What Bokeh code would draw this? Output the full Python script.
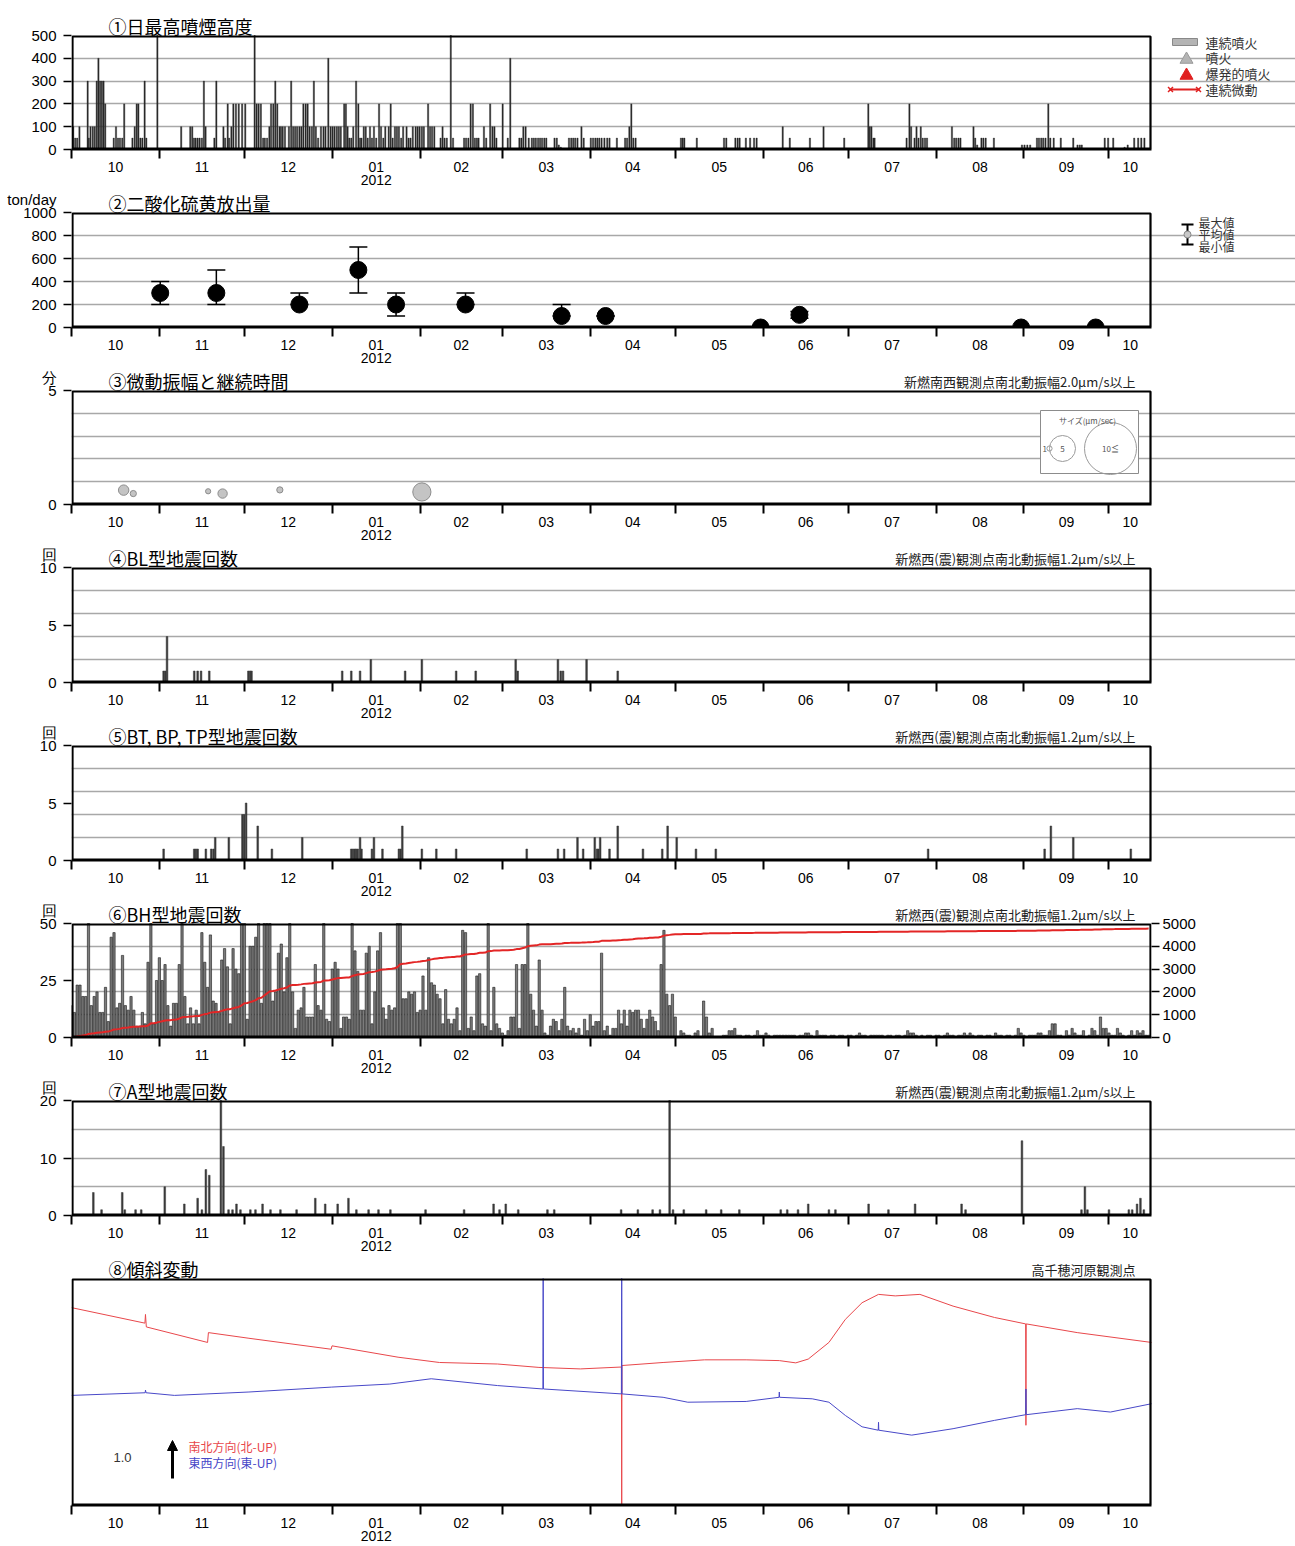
import numpy as np
from bokeh.plotting import figure
from bokeh.layouts import column
from bokeh.models import (FixedTicker, Range1d, LinearAxis, Grid, Label, Arrow, TeeHead,
                          NormalHead, Whisker, ColumnDataSource, BoxAnnotation)
from bokeh.embed import file_html
from bokeh.resources import INLINE

NUM_FONT = "Liberation Sans"
JP_FONT = "Noto Sans CJK JP"

# ---------------- time axis: days since 2011-10-01 ----------------
X_START, X_END = 0, 381
month_start = [0, 31, 61, 92, 123, 152, 183, 213, 244, 274, 305, 336, 366]
month_label = ["10", "11", "12", "01\n2012", "02", "03", "04", "05", "06", "07", "08", "09", "10"]

# ---------------- (1) daily max plume height (m) : (day, height) ----------------
plume = [(0.6,100),(1.3,50),(2.0,50),(2.8,100),(5.7,300),(6.1,50),(6.7,100),(7.5,100),(8.2,100),
 (8.9,300),(9.5,400),(10.1,300),(10.7,300),(11.3,300),(11.9,200),(14.9,50),(15.7,100),(16.4,50),
 (17.1,50),(17.9,50),(18.6,200),(21.5,50),(22.3,100),(23.0,200),(23.6,200),(24.3,50),(25.0,50),
 (25.8,300),(26.4,50),(30.3,500),(38.7,100),(41.9,100),(42.6,100),(43.2,50),(43.8,50),(44.5,50),
 (45.2,50),(46.0,50),(46.7,300),(47.3,100),(50.4,50),(51.1,300),(53.6,100),(54.2,50),(55.1,200),
 (55.6,50),(56.4,100),(57.1,200),(58.0,200),(59.0,200),(60.2,200),(61.3,200),(64.6,500),(65.3,200),
 (66.0,200),(66.8,200),(67.6,50),(68.2,50),(69.0,50),(69.8,100),(70.4,200),(71.2,200),(71.9,300),
 (72.6,200),(73.4,100),(73.9,100),(74.5,100),(75.3,100),(76.7,100),(77.5,300),(78.2,100),(78.9,100),
 (79.6,100),(80.4,100),(81.1,100),(81.8,200),(82.6,200),(83.3,200),(84.0,100),(84.8,100),(85.5,300),
 (86.2,100),(87.0,50),(88.0,100),(88.9,100),(89.6,100),(90.6,400),(91.4,100),(92.1,100),(92.8,100),
 (93.6,100),(94.3,100),(95.0,100),(96.2,200),(96.8,200),(97.4,100),(98.0,50),(98.7,50),(99.4,100),
 (100.4,300),(101.2,200),(101.8,50),(102.3,50),(103.1,100),(103.8,100),(104.5,50),(105.3,100),
 (106.0,50),(106.7,100),(107.5,50),(108.5,200),(109.2,100),(110.0,50),(110.7,100),(111.9,100),
 (112.6,200),(113.3,50),(114.1,100),(114.8,100),(115.5,100),(116.3,50),(117.0,100),(118.2,100),
 (118.9,50),(119.6,50),(120.4,100),(121.4,100),(122.1,100),(122.8,100),(123.6,100),(124.3,100),
 (125.8,200),(126.5,100),(127.2,100),(128.0,100),(130.2,50),(130.9,100),(131.6,50),(132.4,50),
 (133.8,500),(134.6,50),(138.5,50),(139.2,50),(140.0,50),(140.8,200),(141.6,200),(142.3,50),
 (143.0,50),(143.6,50),(145.5,100),(146.3,50),(147.7,200),(148.5,100),(149.2,100),(149.9,50),
 (152.1,200),(153.9,50),(154.8,400),(158.0,50),(158.7,50),(159.4,100),(160.2,100),(161.3,50),
 (162.4,50),(163.1,50),(163.8,50),(164.6,50),(165.3,50),(166.0,50),(166.8,50),(167.5,50),(170.4,50),
 (171.2,50),(171.9,20),(172.6,10),(175.5,50),(176.3,50),(177.0,50),(177.7,50),(178.5,50),(179.9,100),
 (180.7,50),(183.2,50),(184.0,50),(184.8,50),(185.5,50),(186.2,50),(187.0,50),(188.0,50),(189.0,50),
 (189.8,50),(192.4,50),(195.3,50),(196.0,50),(196.8,100),(197.5,200),(198.2,50),(199.0,50),
 (215.0,50),(215.6,50),(216.2,50),(220.6,50),(230.2,50),(231.0,50),(234.2,50),(235.0,50),(235.7,50),
 (237.9,50),(239.4,50),(240.8,50),(241.7,50),(250.9,100),(253.4,50),(260.5,50),(265.3,100),(272.6,50),
 (281.1,200),(281.6,100),(282.2,100),(282.9,50),(283.3,50),(294.6,50),(295.6,200),(296.2,100),
 (297.4,50),(298.1,100),(298.8,50),(299.6,100),(300.3,50),(301.1,50),(301.8,50),(310.6,100),
 (311.4,50),(312.1,50),(312.9,50),(313.6,50),(318.2,100),(318.8,50),(319.5,20),(321.0,50),(321.7,50),
 (322.5,50),(325.4,50),(335.3,20),(336.2,20),(337.2,20),(338.2,20),(340.6,50),(341.3,50),(342.1,50),
 (342.8,50),(343.6,50),(344.6,200),(345.3,50),(346.5,50),(349.0,50),(353.4,50),(354.9,20),(355.7,20),
 (356.4,20),(364.5,50),(365.7,50),(367.5,50),(371.5,10),(372.6,20),(374.9,50),(376.3,50),(377.4,50),
 (378.5,50)]
plume_day = [d for d, _ in plume]
plume_height = [h for _, h in plume]

# ---------------- (2) SO2 emission (ton/day) ----------------
so2_day = [31.3, 51.1, 80.4, 101.2, 114.5, 139.0, 172.9, 188.4, 243.1, 256.8, 335.0, 361.3]
so2_mean = [300, 300, 200, 500, 200, 200, 100, 100, 0, 110, 0, 0]
so2_max = [400, 500, 300, 700, 300, 300, 200, 100, 0, 140, 0, 0]
so2_min = [200, 200, 200, 300, 100, 200, 100, 100, 0, 80, 0, 0]

# ---------------- (3) tremor duration (min) and amplitude (um/s) ----------------
tremor_day = [18.4, 21.8, 48.2, 53.3, 73.5, 123.6]
tremor_min = [0.63, 0.48, 0.58, 0.48, 0.64, 0.55]
tremor_amp = [2.0, 1.2, 1.0, 1.8, 1.2, 3.5]

# ---------------- (4) BL-type earthquakes ----------------
bl_day = [32.5, 33.1, 33.7, 43.3, 44.5, 45.7, 48.6, 62.4, 63.0, 63.5, 95.5, 98.7, 101.8, 105.6,
          117.7, 123.6, 135.7, 142.6, 156.7, 157.4, 171.6, 172.6, 173.4, 181.7, 192.7]
bl_count = [1, 1, 4, 1, 1, 1, 1, 1, 1, 1, 1, 1, 1, 2, 1, 2, 1, 1, 2, 1, 2, 1, 1, 2, 1]

# ---------------- (5) BT, BP, TP-type earthquakes ----------------
bt_day = [32.5, 43.3, 43.9, 44.5, 47.4, 49.3, 50.1, 50.7, 55.5, 60.3, 60.9, 61.6, 65.7, 70.7, 81.4,
          98.7, 99.3, 99.9, 100.4, 101.0, 101.8, 102.3, 106.0, 106.7, 109.7, 115.5, 116.1, 116.7,
          123.6, 128.7, 135.7, 160.6, 171.6, 173.8, 178.5, 180.5, 184.6, 185.4, 185.9, 186.5, 189.8,
          192.7, 201.6, 208.4, 210.3, 213.5, 220.3, 227.3, 302.2, 343.3, 345.5, 353.4, 373.7]
bt_count = [1, 1, 1, 1, 1, 1, 1, 2, 2, 4, 4, 5, 3, 1, 2,
            1, 1, 1, 1, 1, 2, 1, 1, 2, 1, 1, 1, 3,
            1, 1, 1, 1, 1, 1, 2, 1, 2, 1, 1, 2, 1,
            3, 1, 1, 3, 2, 1, 1, 1, 1, 3, 2, 1]

# ---------------- (6) BH-type earthquakes, daily from 2011-10-01 ----------------
bh_count = [
    14, 11, 23, 23, 18, 18, 50, 14, 18, 20, 11, 11, 22, 7, 44, 46, 13, 15, 36, 14,
    12, 18, 12, 5, 5, 11, 6, 33, 90, 6, 25, 35, 25, 32, 14, 5, 15,
    15, 32, 60, 18, 6, 13, 6, 12, 6, 46, 33, 22, 45, 16, 15, 11, 34, 39, 31, 6, 39, 30, 28, 70,
    95, 8, 40, 40, 44, 90, 15, 100, 95, 90, 16, 20, 37, 41, 20, 35, 85,
    20, 4, 12, 13, 22, 9, 9, 9, 32, 14, 12, 60, 8, 7, 30,
    33, 30, 4, 9, 9, 8, 60, 38, 29, 12, 12, 37, 40, 6, 20,
    38, 46, 13, 8, 14, 12, 13, 60, 120, 17, 17, 20, 19, 20,
    11, 12, 27, 12, 35, 24, 23, 19, 17, 6, 21, 8, 6, 8, 13,
    3, 47, 46, 4, 9, 3, 27, 28, 6, 5, 60, 3, 22, 6, 4,
    2, 1, 3, 9, 9, 32, 4, 32, 32, 60, 19, 12, 5, 34,
    12, 2, 1, 5, 8, 7, 3, 8, 22, 5, 3, 4, 2, 4, 1, 8, 3, 10, 5, 7, 7, 37, 3, 5, 1, 4, 4, 12, 6, 12,
    5, 12, 11, 12, 12, 8,
    4, 8, 12, 9, 7, 3, 32, 47, 19, 14, 19, 9,
    0, 3, 2, 1, 1, 0, 2, 3, 0, 16, 9, 2, 4, 0, 0, 0,
    1, 1, 3, 3, 4, 1, 1, 0, 1, 1, 0, 1, 3, 1, 1, 2, 1, 0, 1, 1, 1, 1, 1, 1, 1, 1, 0, 1, 1, 2,
    2, 1, 0, 3, 1, 1, 1, 0, 1, 1, 0, 1, 1, 0, 1, 1, 0, 1, 2, 1, 1, 0, 1, 1, 1, 1, 1, 0, 1, 1,
    0, 1, 1, 0, 1, 3, 2, 2, 1, 0,
    1, 0, 1, 1, 0, 1, 1, 0, 1, 2, 1, 1, 0, 1, 1, 2, 1, 2, 1, 0, 1, 1, 0, 1, 1, 0, 2, 1, 1, 0,
    1, 1, 0, 1, 4, 2, 1, 0, 1, 1,
    1, 2, 2, 1, 1, 3, 6, 6, 1, 1, 0, 3, 1, 4, 2, 1, 1, 3, 0, 1, 4, 3, 1, 9, 4, 4, 2, 1, 1, 4,
    2, 1, 0, 1, 3, 1, 3, 2, 3, 1, 1]

# ---------------- (7) A-type earthquakes ----------------
a_day = [7.7, 10.6, 17.9, 18.8, 22.6, 24.6, 32.9, 39.8, 44.5, 46.0, 47.4, 48.6, 52.7, 53.6, 55.4,
         56.8, 58.2, 59.6, 63.1, 64.9, 67.4, 70.2, 73.7, 79.4, 86.0, 89.5, 93.9, 97.7, 100.5, 104.8,
         108.3, 112.5, 124.9, 138.5, 148.9, 151.0, 153.2, 157.6, 167.9, 170.3, 193.9, 199.8, 205.0,
         207.6, 211.0, 212.2, 216.0, 223.9, 229.2, 235.6, 250.2, 252.5, 256.3, 259.9, 267.2, 269.5,
         281.2, 288.2, 297.6, 314.0, 315.4, 335.3, 356.3, 357.5, 358.4, 366.0, 373.0, 374.2, 375.9,
         377.1, 378.3]
a_count = [4, 1, 4, 1, 1, 1, 5, 2, 3, 1, 8, 7, 20, 12, 1,
           1, 2, 1, 1, 1, 2, 1, 1, 1, 3, 2, 2, 3, 1, 1,
           1, 1, 1, 1, 2, 1, 2, 1, 1, 1, 1, 1, 1,
           1, 20, 1, 1, 1, 1, 1, 1, 1, 1, 2, 1, 1,
           2, 1, 2, 2, 1, 13, 1, 5, 1, 1, 1, 1, 2,
           3, 1]

# ---------------- (8) tilt (micro-radian, relative) ----------------
ns_day = [0, 25.9, 26.1, 26.4, 48.0, 48.3, 62.6, 91.6, 91.9, 115.2, 129.8, 150.3, 164.9, 179.5,
          194.0, 194.1, 194.2, 208.7, 223.3, 238.0, 249.7, 255.5, 259.9, 267.2, 273.0, 278.9, 284.7,
          290.6, 299.3, 311.0, 325.6, 336.6, 336.7, 336.8, 354.8, 381]
ns_tilt = [5.23, 4.82, 5.05, 4.72, 4.31, 4.57, 4.42, 4.13, 4.22, 3.92, 3.78, 3.74, 3.65, 3.61,
           3.66, 0.0, 3.70, 3.78, 3.85, 3.85, 3.83, 3.77, 3.87, 4.31, 4.92, 5.36, 5.58,
           5.54, 5.58, 5.27, 4.97, 4.80, 2.12, 4.80, 4.57, 4.31]
ew_day = [0, 26.0, 26.1, 26.3, 36.3, 62.6, 91.8, 112.3, 126.9, 150.3, 166.3, 166.4, 166.5, 194.0,
          194.1, 194.2, 208.7, 217.4, 238.0, 249.6, 249.7, 249.8, 261.3, 267.2, 273.0, 278.9, 284.6,
          284.7, 284.8, 296.4, 311.0, 325.6, 336.6, 336.7, 336.8, 354.8, 366.5, 381]
ew_tilt = [2.91, 2.98, 3.05, 2.98, 2.91, 3.00, 3.13, 3.21, 3.35, 3.17, 3.08, 6.0, 3.08, 2.95,
           6.0, 2.95, 2.86, 2.73, 2.75, 2.86, 3.00, 2.86, 2.82, 2.73, 2.38, 2.08, 1.99,
           2.20, 1.99, 1.86, 2.03, 2.25, 2.40, 3.08, 2.40, 2.56, 2.47, 2.69]

# =====================================================================
FRAME_W = 1080                      # width of the data frame (px)
PX = FRAME_W / (X_END - X_START)    # pixels per day
LEFT = 71                           # page x of the data frame's left edge
PAGE_H = 1546
REF_TOP = [35, 212, 390, 567, 745, 923, 1100, 1278]     # page y of each data frame top
BAND = 22                            # title band above each data frame (panels 2..8)
AXIS = 41                            # height reserved for the bottom axis
BOUND = [0] + [t - BAND for t in REF_TOP[1:]] + [PAGE_H]  # page y where each figure starts


def text(p, x, y, s, size, color="black", align="left", baseline="middle", font=JP_FONT):
    p.add_layout(Label(x=x, y=y, text=s, text_font_size=size, text_color=color, text_align=align,
                       text_baseline=baseline, text_font=font))


class Panel:
    def __init__(self, k, ymin, ymax, yticks=None, ygrid=None, unit=None, right_ext=144):
        height = BOUND[k + 1] - BOUND[k]
        band = REF_TOP[k] - BOUND[k]
        h = height - AXIS - band                      # data frame height in px
        self.k, self.ymin, self.ymax = k, ymin, ymax
        self.dy = (ymax - ymin) / h
        self.band = band
        self.h = h
        p = figure(frame_width=FRAME_W + right_ext, height=height,
                   x_range=Range1d(X_START, X_END + right_ext / PX),
                   y_range=Range1d(ymin, ymax + band * self.dy),
                   x_axis_type=None, y_axis_type=None, output_backend="svg", toolbar_location=None,
                   min_border_left=LEFT, min_border_right=144 - right_ext,
                   min_border_top=0, min_border_bottom=AXIS)
        p.outline_line_color = None
        p.background_fill_color = "white"
        p.border_fill_color = "white"
        if ygrid is not None:
            p.add_layout(Grid(dimension=1, ticker=FixedTicker(ticks=ygrid), bounds=(X_START, X_END),
                              grid_line_color="#a8a8a8", grid_line_width=1.5))
        # data frame box
        p.add_layout(BoxAnnotation(left=X_START + 1 / PX, right=X_END - 1 / PX,
                                   bottom=ymin + 1 * self.dy, top=ymax - 1 * self.dy,
                                   fill_color=None, fill_alpha=0, line_color="black", line_alpha=1,
                                   line_width=2.2, level="overlay"))
        # month axis: boundary ticks as minor ticks, labels at month centres
        ends = month_start[1:] + [X_END]
        mids = [(a + b) / 2 for a, b in zip(month_start, ends)]
        xa = LinearAxis(ticker=FixedTicker(ticks=mids, minor_ticks=month_start),
                        major_label_overrides={m: lab for m, lab in zip(mids, month_label)},
                        bounds=(X_START, X_END))
        xa.axis_line_width = 2
        xa.major_tick_out = 0
        xa.major_tick_in = 0
        xa.minor_tick_out = 9
        xa.minor_tick_in = 0
        xa.minor_tick_line_width = 2
        xa.minor_tick_line_color = "black"
        xa.major_label_standoff = 0
        xa.major_label_text_font = NUM_FONT
        xa.major_label_text_font_size = "14px"
        xa.major_label_text_line_height = 0.82
        xa.major_label_text_color = "black"
        p.add_layout(xa, "below")
        if yticks is not None:
            ticks = list(yticks)
            over = {}
            if unit is not None:
                uy = ymax + 18 * self.dy
                ticks.append(uy)
                over[uy] = unit
            ya = LinearAxis(ticker=FixedTicker(ticks=ticks, minor_ticks=list(yticks)),
                            major_label_overrides=over)
            ya.axis_line_color = None
            ya.major_tick_out = 0
            ya.major_tick_in = 0
            ya.minor_tick_out = 8
            ya.minor_tick_in = 0
            ya.minor_tick_line_width = 1.5
            ya.minor_tick_line_color = "black"
            ya.major_label_standoff = 7
            ya.major_label_text_font = NUM_FONT
            ya.major_label_text_font_size = "15px"
            ya.major_label_text_color = "black"
            p.add_layout(ya, "left")
        self.p = p

    def above(self, px):
        return self.ymax + px * self.dy

    def xr(self, page_x):
        """data x of a page x position (for decorations)"""
        return X_START + (page_x - LEFT) / PX

    def yr(self, page_y):
        """data y of a page y position (for decorations)"""
        return self.ymax - (page_y - REF_TOP[self.k]) * self.dy

    def title(self, s, note=None):
        text(self.p, self.xr(108), self.above(9.5), s, "18px")
        if note:
            text(self.p, self.xr(1135), self.above(9), note, "13px", align="right", color="#222222")


NOTE_SE = "新燃西(震)観測点南北動振幅1.2μm/s以上"

# ---------------- panel 1 ----------------
P1 = Panel(0, 0, 500, [0, 100, 200, 300, 400, 500], [100, 200, 300, 400])
p1 = P1.p
p1.vbar(x=plume_day, top=plume_height, width=0.45, fill_color="#2a2a2a", line_color="#2a2a2a",
        line_width=0.4)
P1.title("①日最高噴煙高度")
# legend (decoration)
p1.quad(left=[P1.xr(1172)], right=[P1.xr(1197)], top=[P1.yr(38)], bottom=[P1.yr(45)],
        fill_color="#b4b4b4", line_color="#888888")
p1.scatter([P1.xr(1186)], [P1.yr(59)], marker="triangle", size=13, fill_color="#b4b4b4",
           line_color="#999999")
p1.scatter([P1.xr(1186)], [P1.yr(75)], marker="triangle", size=13, fill_color="#e02020",
           line_color="#e02020")
p1.line([P1.xr(1169), P1.xr(1199)], [P1.yr(89)] * 2, line_color="#e02020", line_width=2)
p1.scatter([P1.xr(1170), P1.xr(1198)], [P1.yr(89)] * 2, marker="x", size=7, line_color="#e02020",
           line_width=1.5)
for yy, s in zip([42, 57, 73, 89], ["連続噴火", "噴火", "爆発的噴火", "連続微動"]):
    text(p1, P1.xr(1205), P1.yr(yy), s, "13px", color="#333333")

# ---------------- panel 2 ----------------
P2 = Panel(1, 0, 1000, [0, 200, 400, 600, 800, 1000], [200, 400, 600, 800], unit="ton/day")
p2 = P2.p
so2_src = ColumnDataSource(dict(x=so2_day, mean=so2_mean, hi=so2_max, lo=so2_min))
p2.add_layout(Whisker(source=so2_src, base="x", upper="hi", lower="lo", dimension="height",
                      line_width=1.5, upper_head=TeeHead(size=18, line_width=1.5),
                      lower_head=TeeHead(size=18, line_width=1.5)))
p2.scatter("x", "mean", source=so2_src, size=17, color="black")
P2.title("②二酸化硫黄放出量")
lx = P2.xr(1187)
p2.segment(x0=[lx, P2.xr(1181), P2.xr(1181)], x1=[lx, P2.xr(1193), P2.xr(1193)],
           y0=[P2.yr(224), P2.yr(224), P2.yr(244)], y1=[P2.yr(244), P2.yr(224), P2.yr(244)],
           line_color="black", line_width=2)
p2.scatter([lx], [P2.yr(234)], size=7, fill_color="#c8c8c8", line_color="#888888")
for yy, s in zip([222, 234, 246], ["最大値", "平均値", "最小値"]):
    text(p2, P2.xr(1198), P2.yr(yy), s, "12px", color="#333333")

# ---------------- panel 3 ----------------
P3 = Panel(2, 0, 5, [0, 5], [1, 2, 3, 4], unit="分")
p3 = P3.p
tr_src = ColumnDataSource(dict(x=tremor_day, y=tremor_min, s=[a * 5.2 for a in tremor_amp]))
p3.scatter("x", "y", size="s", source=tr_src, fill_color="#c4c4c4", line_color="#8c8c8c")
P3.title("③微動振幅と継続時間", "新燃南西観測点南北動振幅2.0μm/s以上")
p3.quad(left=[P3.xr(1040)], right=[P3.xr(1138)], bottom=[P3.yr(473)], top=[P3.yr(410)],
        fill_color="white", line_color="#8c8c8c", line_width=1)
leg_amp = [1, 5, 10]
leg_x = [P3.xr(1049), P3.xr(1062), P3.xr(1110)]
p3.scatter(leg_x, [P3.yr(448)] * 3, size=[a * 5.2 for a in leg_amp], fill_color=None,
           line_color="#9a9a9a")
text(p3, P3.xr(1042), P3.yr(448), "1", "8px", color="#555555")
text(p3, leg_x[1], P3.yr(448), "5", "8px", color="#555555", align="center")
text(p3, leg_x[2], P3.yr(448), "10≦", "8px", color="#555555", align="center")
text(p3, P3.xr(1087), P3.yr(420), "サイズ(μm/sec)", "8px", color="#555555", align="center")

# ---------------- panel 4 ----------------
P4 = Panel(3, 0, 10, [0, 5, 10], [2, 4, 6, 8], unit="回")
p4 = P4.p
p4.vbar(x=bl_day, top=bl_count, width=0.6, fill_color="#3a3a3a", line_color="#3a3a3a", line_width=0.5)
P4.title("④BL型地震回数", NOTE_SE)

# ---------------- panel 5 ----------------
P5 = Panel(4, 0, 10, [0, 5, 10], [2, 4, 6, 8], unit="回")
p5 = P5.p
p5.vbar(x=bt_day, top=bt_count, width=0.6, fill_color="#3a3a3a", line_color="#3a3a3a", line_width=0.5)
P5.title("⑤BT, BP, TP型地震回数", NOTE_SE)

# ---------------- panel 6 ----------------
P6 = Panel(5, 0, 50, [0, 25, 50], [10, 20, 30, 40], unit="回", right_ext=0)
p6 = P6.p
CUM_MAX = 5000
p6.extra_y_ranges = {"cum": Range1d(0, CUM_MAX + P6.band * CUM_MAX / P6.h)}
ra = LinearAxis(y_range_name="cum", ticker=FixedTicker(ticks=[0, 1000, 2000, 3000, 4000, 5000]))
ra.axis_line_color = None
ra.major_tick_out = 8
ra.major_tick_in = 0
ra.major_tick_line_width = 1.5
ra.major_label_standoff = 3
ra.major_label_text_font = NUM_FONT
ra.major_label_text_font_size = "15px"
ra.major_label_text_color = "black"
p6.add_layout(ra, "right")
bh_day = np.arange(len(bh_count))
bh_cum = np.cumsum(bh_count)
p6.vbar(x=bh_day, top=np.minimum(bh_count, 50), width=0.8, fill_color="#7c7c7c", line_color="#1a1a1a",
        line_width=0.6)
p6.line(bh_day, bh_cum, y_range_name="cum", line_color="#e32626", line_width=2)
P6.title("⑥BH型地震回数", NOTE_SE)

# ---------------- panel 7 ----------------
P7 = Panel(6, 0, 20, [0, 10, 20], [5, 10, 15], unit="回")
p7 = P7.p
p7.vbar(x=a_day, top=a_count, width=0.6, fill_color="#3a3a3a", line_color="#3a3a3a", line_width=0.5)
P7.title("⑦A型地震回数", NOTE_SE)

# ---------------- panel 8 ----------------
P8 = Panel(7, 0, 6)
p8 = P8.p
p8.line(ns_day, ns_tilt, line_color="#e8474b", line_width=1)
p8.line(ew_day, ew_tilt, line_color="#4848c8", line_width=1)
P8.title("⑧傾斜変動", "高千穂河原観測点")
p8.add_layout(Arrow(end=NormalHead(size=10, fill_color="black", line_color="black"),
                    x_start=P8.xr(172), x_end=P8.xr(172), y_start=P8.yr(1478), y_end=P8.yr(1440),
                    line_width=3, line_color="black"))
text(p8, P8.xr(122), P8.yr(1457), "1.0", "13px", align="center", font=NUM_FONT, color="#333333")
text(p8, P8.xr(188), P8.yr(1446), "南北方向(北-UP)", "12px", color="#e8474b")
text(p8, P8.xr(188), P8.yr(1462), "東西方向(東-UP)", "12px", color="#4848c8")

layout = column(p1, p2, p3, p4, p5, p6, p7, p8, spacing=0)
open("out.html", "w").write(file_html(layout, INLINE))
